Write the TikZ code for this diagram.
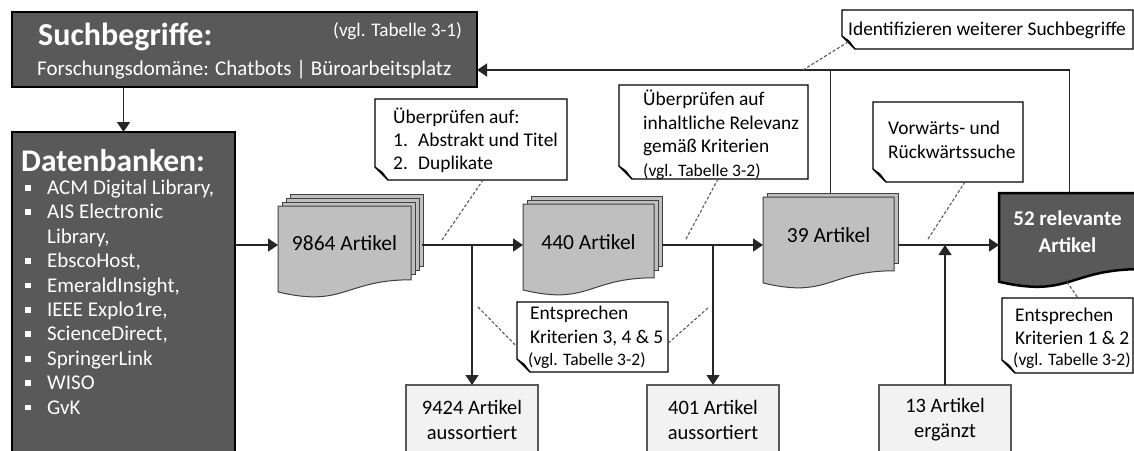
\documentclass[tikz,border=0pt]{standalone}
\usepackage{fontspec}
\setmainfont{Carlito}
\usetikzlibrary{arrows.meta,calc}
\definecolor{dk}{HTML}{595959}
\definecolor{stk}{HTML}{BFBFBF}
\definecolor{stkb}{HTML}{404040}
\definecolor{bx}{HTML}{F2F2F2}
\definecolor{ln}{HTML}{262626}
\definecolor{foldc}{HTML}{D9D9D9}
\newcommand\fs[1]{\fontsize{#1}{#1}\selectfont}
\tikzset{
  conn/.style={draw=ln, line width=1.4pt},
  arr/.style={conn, -{Triangle[length=10pt,width=13pt]}},
  dsh/.style={draw=dk, line width=1.1pt, dash pattern=on 3pt off 2pt},
  darkbox/.style={draw=black, fill=dk, line width=2.5pt},
  page/.style={draw=stkb, fill=stk, line width=1pt},
  outbox/.style={draw=dk, fill=bx, line width=1.3pt, minimum width=132pt, minimum height=69pt,
    inner sep=0pt, outer sep=0pt, align=center, font=\fontsize{20.5}{25}\selectfont},
  frame/.style={draw=none, inner sep=0pt, outer sep=0pt},
  callout/.style={draw=black, fill=white, line width=1.3pt},
  foldst/.style={draw=black, fill=foldc, line width=1pt, line join=round},
  tl/.style={anchor=base west, inner sep=0pt, font=\fs{19.4}},
  tlw/.style={tl, text=white},
  lst/.style={tlw, font=\fs{21}},
  tc/.style={anchor=base, inner sep=0pt},
  small/.style={font=\fs{17.5}},
}
\newcommand\docpath[5]{%
  \pgfmathsetmacro\dxr{#2+#4}\pgfmathsetmacro\dxm{#2+0.5*#4}%
  \pgfmathsetmacro\dyr{#3+0.802*#5}\pgfmathsetmacro\dyc{#3+1.1075*#5}\pgfmathsetmacro\dyl{#3+0.934*#5}%
  \path[#1] (#2,#3) -- (\dxr,#3) -- (\dxr,\dyr) .. controls (\dxm,\dyr) and (\dxm,\dyc) .. (#2,\dyl) -- cycle;}
\newcommand\callout[5]{%
  \pgfmathsetmacro\cxa{#2+13}\pgfmathsetmacro\cya{#5-13}%
  \pgfmathsetmacro\cxf{#2+7}\pgfmathsetmacro\cyf{#5-8}%
  \path[callout] (#2,#3) -- (#4,#3) -- (#4,#5) -- (\cxa,#5) -- (#2,\cya) -- cycle;
  \path[foldst] (#2,\cya) -- (\cxa,#5) -- (\cxf,\cyf) -- cycle;
  \pgfmathsetmacro\cxm{(#2+#4)/2}\pgfmathsetmacro\cym{(#3+#5)/2}%
  \pgfmathsetmacro\cw{#4-#2}\pgfmathsetmacro\ch{#5-#3}%
  \node[frame, minimum width=\cw pt, minimum height=\ch pt] (#1) at (\cxm,\cym) {};}
\newcommand\bul[1]{\fill[white] (25.2,#1-9.5) rectangle (31,#1-3.7);}
\begin{document}
\begin{tikzpicture}[x=1pt,y=-1pt]
\useasboundingbox (0,0) rectangle (1134,450);
\clip (0,0) rectangle (1134,450);
\fill[white] (0,0) rectangle (1134,450);

% dark boxes
\node[darkbox, minimum width=465pt, minimum height=75pt, inner sep=0pt, outer sep=0pt] (sb) at (244.5,49.5) {};
\node[darkbox, line width=2pt, minimum width=223pt, minimum height=328pt, inner sep=0pt, outer sep=0pt] (db) at (123.5,296) {};
\coordinate (sbin) at (477,70);

% stacks
\path[page] (290,194) rectangle (423,266);
\path[page] (286,198) rectangle (419,270);
\path[page] (282,202) rectangle (415,274);
\docpath{page}{278}{206}{133}{92}
\path[page] (531,196) rectangle (662,266);
\path[page] (527,200) rectangle (658,270);
\docpath{page}{523}{204}{131}{92}
\path[page] (767,193) rectangle (898,263);
\docpath{page}{763}{197}{131}{92}
\docpath{darkbox}{999}{193}{141}{95}

\node[frame, minimum width=144pt, minimum height=102pt] (s1) at (350,245) {};
\node[frame, minimum width=139pt, minimum height=100pt] (s2) at (592.5,245) {};
\node[frame, minimum width=135pt, minimum height=104pt] (s3) at (830.5,245) {};
\node[frame, minimum width=141pt, minimum height=104pt] (s4) at (1069.5,245) {};

% output boxes
\node[outbox] (b1) at (472,419.5) {9424 Artikel\\aussortiert};
\node[outbox] (b2) at (713,419.5) {401 Artikel\\aussortiert};
\node[outbox] (b3) at (945,419.5) {13 Artikel\\ergänzt};

% connectors
\draw[arr] (sb.south -| db.north) -- (db.north);
\draw[arr] (db.east |- s1.west) -- (s1.west);
\draw[arr] (s1.east) -- (s2.west);
\draw[arr] (s2.east) -- (s3.west);
\draw[arr] (s3.east) -- (s4.west);
\draw[arr] (b1.north |- s1.east) -- (b1.north);
\draw[arr] (b2.north |- s2.east) -- (b2.north);
\draw[arr] (b3.north) -- (b3.north |- s3.east);
\draw[arr] (s4.north) |- (sbin);
\draw[conn] (s3.north) -- (s3.north |- sbin);

% callouts
\callout{c1}{375}{99}{567}{180}
\callout{c2}{619}{85}{808}{179}
\callout{c3}{873}{102}{1023}{182}
\callout{c4}{842}{10}{1133}{49}
\callout{c5}{517}{302}{668}{372}
\callout{c6}{1002}{298}{1133}{373}

\coordinate (e1) at (442,240);
\coordinate (e2) at (686,239);
\coordinate (e3) at (928,239);
\coordinate (e4) at (803,70);
\coordinate (e5) at (478,307);
\coordinate (e6) at (708,308);
\coordinate (e7) at (1067,282);
\draw[dsh] (e1) -- ($(c1.south west)!0.5625!(c1.south east)$);
\draw[dsh] (e2) -- ($(c2.south west)!0.524!(c2.south east)$);
\draw[dsh] (e3) -- ($(c3.south west)!0.613!(c3.south east)$);
\draw[dsh] (e4) -- ($(c4.south west)+(6,-7)$);
\draw[dsh] (e5) -- ($(c5.north west)!0.64!(c5.south west)$);
\draw[dsh] (e6) -- ($(c5.north east)!0.59!(c5.south east)$);
\draw[dsh] (e7) -- ($(c6.north west)!0.58!(c6.north east)$);

% texts: Suchbegriffe
\node[tlw, font=\bfseries\fs{32}] (t1) at (38,45) {Suchbegriffe:};
\node[tlw, font=\fs{19.2}] (t2) at (333,36) {(vgl. Tabelle 3-1)};
\node[tlw, font=\fs{21}] (t3) at (37,75) {Forschungsdomäne: Chatbots | Büroarbeitsplatz};

% Datenbanken
\node[tlw, font=\bfseries\fs{31.5}] (t4) at (21,171) {Datenbanken:};
\node[lst] (li1) at (47,194.5) {ACM Digital Library,};
\node[lst] (li2) at (47,218.9) {AIS Electronic};
\node[lst] (li3) at (47,243.3) {Library,};
\node[lst] (li4) at (47,267.7) {EbscoHost,};
\node[lst] (li5) at (47,292.1) {EmeraldInsight,};
\node[lst] (li6) at (47,316.5) {IEEE Explo1re,};
\node[lst] (li7) at (47,340.9) {ScienceDirect,};
\node[lst] (li8) at (47,365.3) {SpringerLink};
\node[lst] (li9) at (47,389.7) {WISO};
\node[lst] (li10) at (47,414.1) {GvK};
\bul{194.5}\bul{218.9}\bul{267.7}\bul{292.1}\bul{316.5}\bul{340.9}\bul{365.3}\bul{389.7}\bul{414.1}

% stack labels
\node[tc, font=\fs{21.5}] (t5) at (344.5,250) {9864 Artikel};
\node[tc, font=\fs{21.5}] (t6) at (588.5,249) {440 Artikel};
\node[tc, font=\fs{21.5}] (t7) at (828.5,242) {39 Artikel};
\node[tc, font=\bfseries\fs{21}, text=white] (t8) at (1067.5,225) {52 relevante};
\node[tc, font=\bfseries\fs{21}, text=white] (t9) at (1067.5,252) {Artikel};

% callout texts
\node[tl] (u1) at (393,123) {Überprüfen auf:};
\node[tl] (u2) at (393,146) {1.};
\node[tl] (u3) at (418,146) {Abstrakt und Titel};
\node[tl] (u4) at (393,169) {2.};
\node[tl] (u5) at (418,169) {Duplikate};

\node[tl] (v1) at (643,105) {Überprüfen auf};
\node[tl] (v2) at (643,129) {inhaltliche Relevanz};
\node[tl] (v3) at (643,152) {gemäß Kriterien};
\node[tl, small] (v4) at (643,176) {(vgl. Tabelle 3-2)};

\node[tl] (w1) at (888,134) {Vorwärts- und};
\node[tl] (w2) at (888,158) {Rückwärtssuche};

\node[tl] (x1) at (848,35.5) {Identifizieren weiterer Suchbegriffe};

\node[tl] (y1) at (530,319) {Entsprechen};
\node[tl] (y2) at (530,343) {Kriterien 3, 4 \& 5};
\node[tl, small] (y3) at (528,365.5) {(vgl. Tabelle 3-2)};

\node[tl] (z1) at (1015,321) {Entsprechen};
\node[tl] (z2) at (1015,344) {Kriterien 1 \& 2};
\node[tl, small] (z3) at (1013,365.5) {(vgl. Tabelle 3-2)};
\end{tikzpicture}
\end{document}
